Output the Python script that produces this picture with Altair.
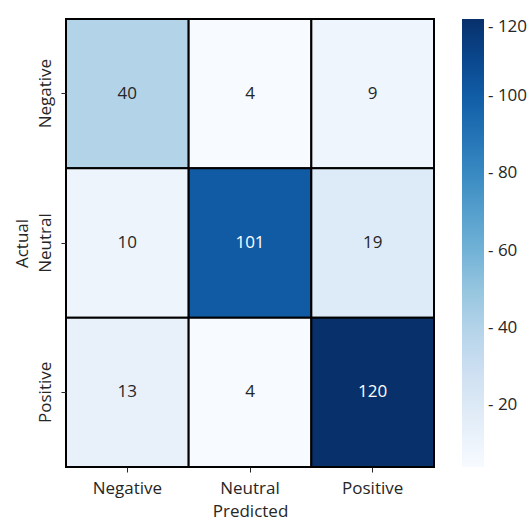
import altair as alt
import pandas as pd

# Confusion matrix: rows = actual class, columns = predicted class
classes = ["Negative", "Neutral", "Positive"]
row_negative = [40, 4, 9]
row_neutral = [10, 101, 19]
row_positive = [13, 4, 120]
legend_ticks = [20, 40, 60, 80, 100, 120]

# matplotlib-style "Blues" stops spread over the colour range
blues = ["#f7fbff", "#deebf7", "#c6dbef", "#9ecae1", "#6baed6",
         "#4292c6", "#2171b5", "#08519c", "#08306b"]
vmin, vmax = 4, 120
stops = [vmin + (vmax - vmin) * i / (len(blues) - 1) for i in range(len(blues))]

records = []
for actual, row in zip(classes, [row_negative, row_neutral, row_positive]):
    for predicted, count in zip(classes, row):
        records.append({"Actual": actual, "Predicted": predicted, "count": count})
df = pd.DataFrame(records)

FONT = "Open Sans"
INK = "#262626"
FS = 17

base = alt.Chart(df).encode(
    x=alt.X("Predicted:N", sort=classes, title="Predicted",
            axis=alt.Axis(labelAngle=0, domain=False, tickSize=5, tickColor=INK,
                          labelFontSize=FS, titleFontSize=FS, labelPadding=8,
                          titlePadding=7, labelColor=INK, titleColor=INK,
                          titleFontWeight="normal")),
    y=alt.Y("Actual:N", sort=classes, title="Actual",
            axis=alt.Axis(labelAngle=-90, labelAlign="center", labelBaseline="bottom",
                          domain=False, tickSize=5, tickColor=INK,
                          labelFontSize=FS, titleFontSize=FS, labelPadding=7,
                          titlePadding=5, labelColor=INK, titleColor=INK,
                          titleFontWeight="normal")),
)

cells = base.mark_rect(stroke="black", strokeWidth=2).encode(
    color=alt.Color("count:Q",
                    scale=alt.Scale(domain=stops, range=blues),
                    legend=alt.Legend(title=None, values=legend_ticks,
                                      gradientLength=448, gradientThickness=22,
                                      gradientStrokeWidth=0, offset=28, padding=0,
                                      labelFontSize=FS, labelColor=INK,
                                      labelOffset=4, labelBaseline="middle",
                                      labelOverlap=False,
                                      labelExpr="'- ' + datum.label")),
)

labels = base.mark_text(fontSize=FS, font=FONT).encode(
    text="count:Q",
    color=alt.condition("datum.count > 70", alt.value("white"), alt.value(INK)),
)

chart = (cells + labels).properties(
    width=368, height=448,
    autosize=alt.AutoSizeParams(type="none"),
    padding={"left": 66, "top": 19, "right": 94, "bottom": 54},
).configure(font=FONT).configure_view(strokeWidth=0)

chart.save("out.html", embed_options={"renderer": "svg", "actions": False})
